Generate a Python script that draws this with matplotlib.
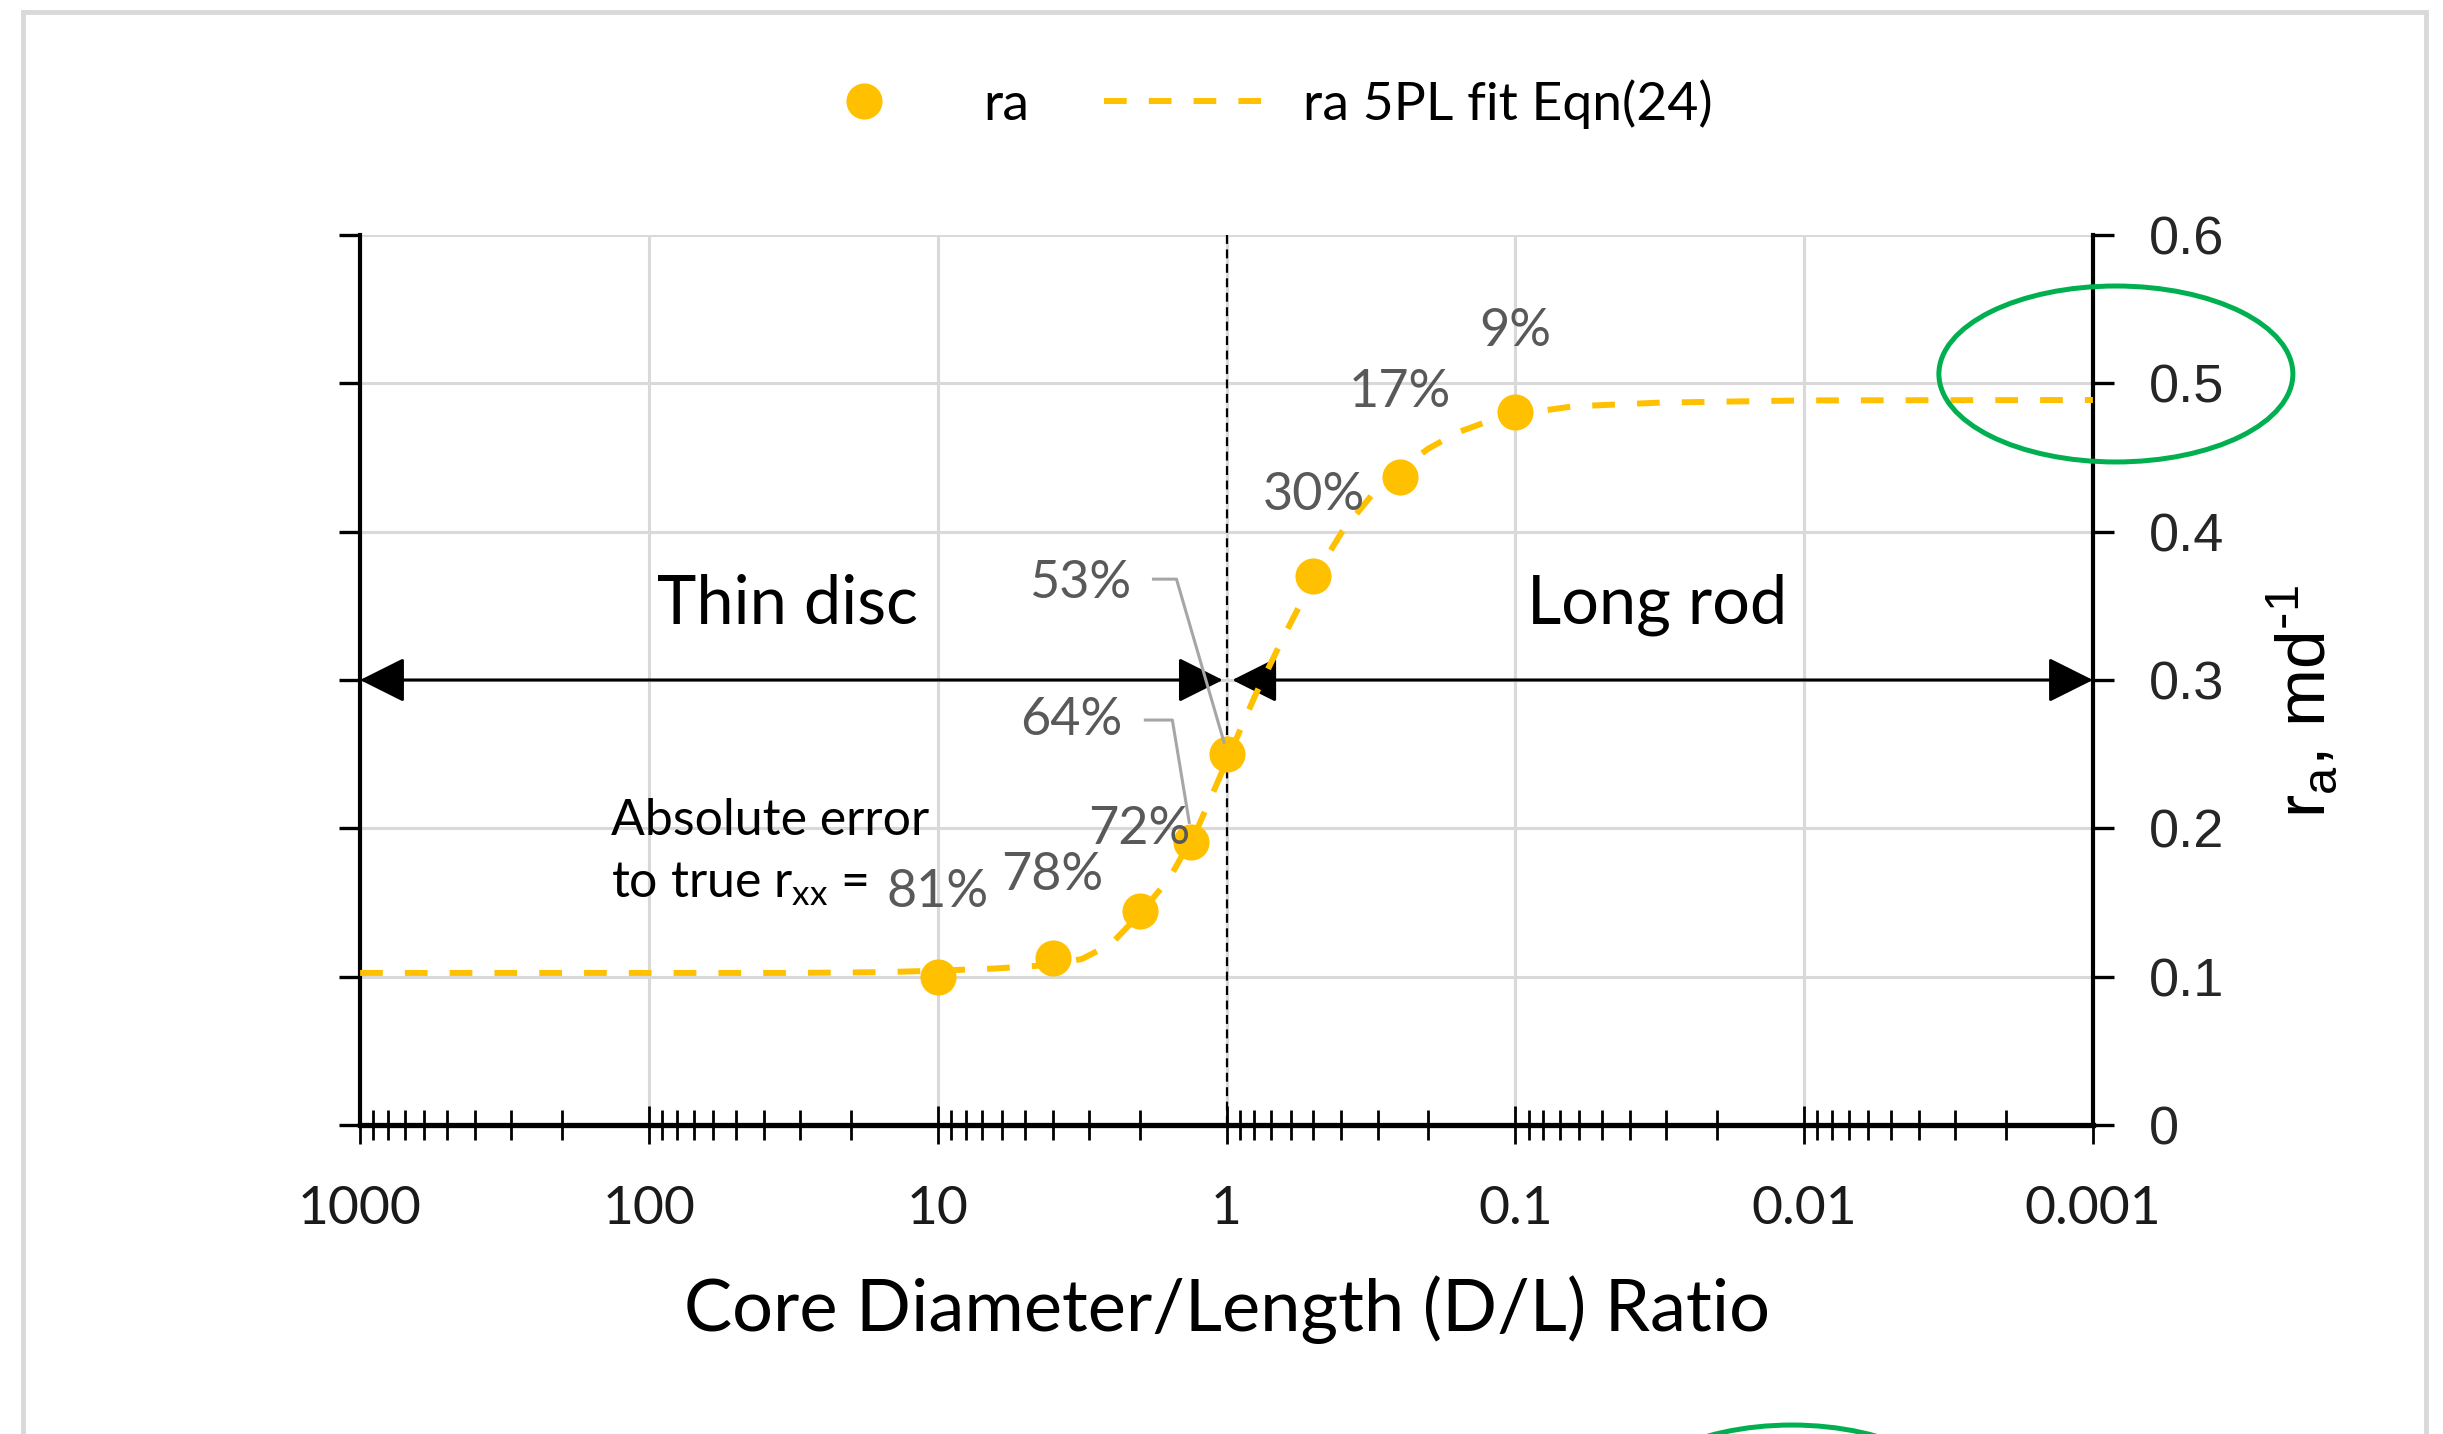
import matplotlib.pyplot as plt
from matplotlib.patches import Ellipse, Rectangle
from matplotlib.ticker import NullFormatter, LogLocator

# measured ra values and the absolute error labels
dl_ratio = [10, 4, 2, 1.33, 1, 0.5, 0.25, 0.1]
ra = [0.100, 0.1125, 0.144, 0.191, 0.250, 0.370, 0.437, 0.481]
err_labels = ['81%', '78%', '72%', '64%', '53%', '30%', '17%', '9%']
# label positions (D/L, ra)
label_x = [10, 4, 2, 3.46, 3.21, 0.5, 0.251, 0.1]
label_y = [0.157, 0.168, 0.199, 0.273, 0.365, 0.4245, 0.494, 0.535]

# 5PL fit curve
fit_dl = [1000, 100, 31.6, 15.8, 10, 6.31, 3.98, 3.16, 2.51, 2.0, 1.58, 1.26,
          1.0, 0.794, 0.631, 0.501, 0.398, 0.316, 0.251, 0.2, 0.158, 0.126,
          0.1, 0.0631, 0.0316, 0.01, 0.001]
fit_ra = [0.1025, 0.1025, 0.1025, 0.103, 0.104, 0.1055, 0.108, 0.112, 0.122,
          0.142, 0.166, 0.200, 0.245, 0.290, 0.330, 0.368, 0.400, 0.424,
          0.442, 0.456, 0.467, 0.474, 0.479, 0.4845, 0.487, 0.4885, 0.4888]

xticks = [1000, 100, 10, 1, 0.1, 0.01, 0.001]
xtick_labels = ['1000', '100', '10', '1', '0.1', '0.01', '0.001']
yticks = [0, 0.1, 0.2, 0.3, 0.4, 0.5, 0.6]
ytick_labels = ['0', '0.1', '0.2', '0.3', '0.4', '0.5', '0.6']

CAL = ['Lato', 'DejaVu Sans']
ARIAL = ['Liberation Sans', 'DejaVu Sans']
YELLOW = '#ffc000'
GREY = '#595959'

plt.rcParams['font.family'] = CAL
plt.rcParams['mathtext.fontset'] = 'custom'

fig = plt.figure(figsize=(24.43, 14.34), dpi=100)
ax = fig.add_axes([0.1474, 0.2155, 0.7093, 0.6206])

ax.set_xscale('log')
ax.set_xlim(1000, 0.001)
ax.set_ylim(0, 0.6)

ax.set_xticks(xticks)
ax.set_xticklabels(xtick_labels, fontsize=38.5, color='#1a1a1a')
ax.xaxis.set_minor_locator(LogLocator(base=10, subs=range(2, 10), numticks=50))
ax.xaxis.set_minor_formatter(NullFormatter())
ax.tick_params(axis='x', which='major', direction='inout', length=28, width=2, pad=30)
ax.tick_params(axis='x', which='minor', direction='inout', length=21, width=2)

ax.set_yticks(yticks)
ax.set_yticklabels(ytick_labels, fontsize=39, color='#262626', family=ARIAL)
ax.tick_params(axis='y', which='both', left=True, right=True, labelleft=False,
               labelright=True, direction='out', length=15, width=2.4, pad=25)

for s in ['left', 'right', 'bottom']:
    ax.spines[s].set_color('black')
    ax.spines[s].set_linewidth(3)
ax.spines['bottom'].set_linewidth(3.8)
ax.spines['top'].set_visible(False)

ax.grid(True, which='major', color='#d9d9d9', lw=2.2)
ax.set_axisbelow(True)

# D/L = 1 divider
ax.axvline(1, color='black', lw=1.6, ls=(0, (4, 2.5)), zorder=3)

# thin disc / long rod arrows
arrow = dict(arrowstyle='<|-|>,head_length=0.4,head_width=0.2', mutation_scale=70,
             lw=2.2, color='black', shrinkA=0, shrinkB=0)
ax.annotate('', xy=(1000, 0.3), xytext=(1.03, 0.3), arrowprops=arrow, zorder=4)
ax.annotate('', xy=(0.001, 0.3), xytext=(0.955, 0.3), arrowprops=arrow, zorder=4)
ax.text(33.2, 0.351, 'Thin disc', fontsize=48, ha='center', va='center')
ax.text(0.0324, 0.351, 'Long rod', fontsize=48, ha='center', va='center')

fit_line, = ax.plot(fit_dl, fit_ra, color=YELLOW, lw=4.3, ls=(0, (3.8, 3.7)),
                    zorder=5, label='ra 5PL fit Eqn(24)')
pts, = ax.plot(dl_ratio, ra, 'o', color=YELLOW, ms=26, mec='none', zorder=6, label='ra')

# error labels
for lx, ly, t in zip(label_x, label_y, err_labels):
    ax.text(lx, ly, t, fontsize=37.5, color=GREY, ha='center', va='center', zorder=7)
# leader lines for 64% and 53%
ax.plot([1.91, 1.54, 1.346], [0.273, 0.273, 0.204], color='#a6a6a6', lw=2.2, zorder=7)
ax.plot([1.79, 1.49, 1.02], [0.368, 0.368, 0.258], color='#a6a6a6', lw=2.2, zorder=7)

ax.text(135, 0.205, 'Absolute error', fontsize=36, ha='left', va='center')
ax.text(135, 0.162, r'to true r$_\mathregular{xx}$ = ', fontsize=36, ha='left', va='center')

ax.set_xlabel('Core Diameter/Length (D/L) Ratio', fontsize=52, va='center')
ax.xaxis.set_label_coords(0.5, -0.207)
ax.yaxis.set_label_position('right')
ax.set_ylabel(r'r$_\mathregular{a}$, md$^{\text{-}\mathregular{1}}$', fontsize=50,
              family=ARIAL, va='center', rotation=90)
ax.yaxis.set_label_coords(1.121, 0.476)

fig.legend(handles=[pts, fit_line], loc='center', bbox_to_anchor=(0.511, 0.9275),
           ncol=2, frameon=False, fontsize=38.5, handlelength=3.0, handletextpad=0.72,
           columnspacing=1.4, numpoints=1)

# outer frame and green highlight ellipses
fig.add_artist(Rectangle((0.0094, -0.02), 0.9837, 1.0116, transform=fig.transFigure,
                         fill=False, ec='#d9d9d9', lw=3.5))
fig.add_artist(Ellipse((0.8661, 0.7392), 0.1449, 0.1227, transform=fig.transFigure,
                       fill=False, ec='#00b050', lw=3.6, zorder=10))
fig.add_artist(Ellipse((0.7335, -0.06), 0.147, 0.1325, transform=fig.transFigure,
                       fill=False, ec='#00b050', lw=3.6, zorder=10))

fig.savefig('out.png', dpi=100)
